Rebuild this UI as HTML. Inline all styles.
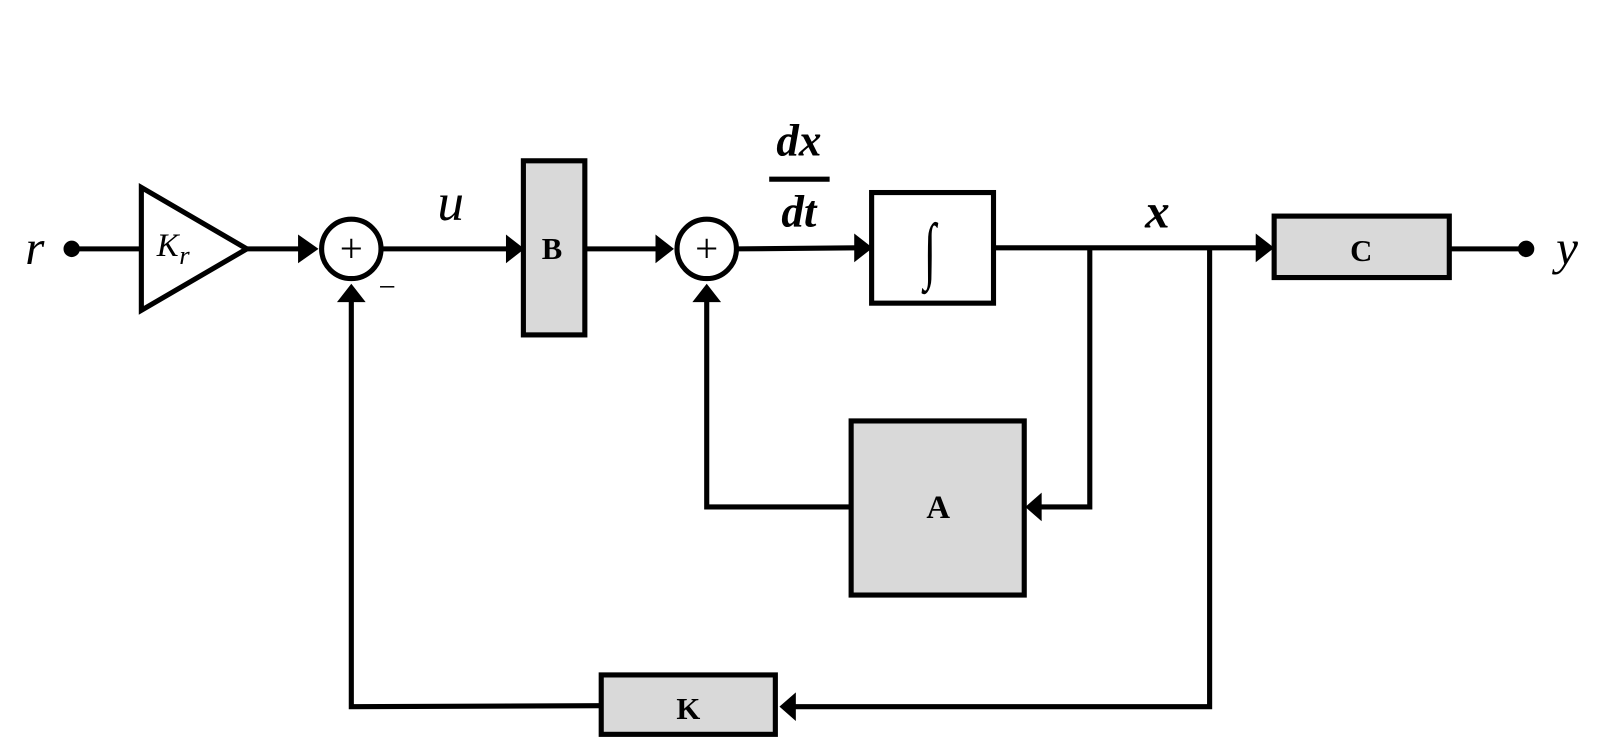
<!DOCTYPE html>
<html><head><meta charset="utf-8"><style>html,body{margin:0;padding:0;background:#fff}svg{display:block}</style></head>
<body>
<svg width="1606" height="737" viewBox="0 0 1568 719.6" preserveAspectRatio="none" xmlns="http://www.w3.org/2000/svg">
<g stroke="#000" stroke-width="5" fill="none">
<line x1="70" y1="243" x2="138" y2="243"/>
<polygon points="138,183 138,303 241,243" fill="#fff"/>
<line x1="241" y1="243" x2="295" y2="243"/>
<circle cx="343" cy="243" r="29" fill="#fff"/>
<line x1="372" y1="243" x2="497" y2="243"/>
<rect x="511" y="157" width="60" height="170" fill="#d9d9d9"/>
<line x1="571" y1="243" x2="643" y2="243"/>
<circle cx="690" cy="243" r="29" fill="#fff"/>
<line x1="719" y1="243" x2="837" y2="242"/>
<rect x="851" y="188" width="119" height="108" fill="#fff"/>
<line x1="970" y1="242" x2="1228" y2="242"/>
<rect x="1244" y="211" width="171" height="60" fill="#d9d9d9"/>
<line x1="1415" y1="243" x2="1490" y2="243"/>
<polyline points="1064,242 1064,495 1015,495"/>
<rect x="831" y="411" width="169" height="170" fill="#d9d9d9"/>
<polyline points="831,495 690,495 690,292"/>
<polyline points="1181,242 1181,690 775,690"/>
<rect x="587" y="659" width="170" height="58" fill="#d9d9d9"/>
<polyline points="587,689 343,690 343,292"/>
<line x1="751" y1="175" x2="810" y2="175"/>
</g>
<g fill="#000">
<circle cx="70" cy="243" r="8"/>
<circle cx="1490" cy="243" r="8"/>
<polygon points="291,229 311,243 291,257"/>
<polygon points="494,229 512,243 494,257"/>
<polygon points="640,229 658,243 640,257"/>
<polygon points="834,228 852,242 834,256"/>
<polygon points="1226,228 1244,242 1226,256"/>
<polygon points="1017,481 1001,495 1017,509"/>
<polygon points="777,676 761,690 777,704"/>
<polygon points="676,295 690,277 704,295"/>
<polygon points="329,295 343,277 357,295"/>
</g>
<g font-family="Liberation Serif, serif" fill="#000">
<text x="34" y="258" font-size="48" font-style="italic" text-anchor="middle">r</text>
<text x="153" y="250" font-size="32" font-style="italic">K</text>
<text x="175" y="258" font-size="26" font-style="italic">r</text>
<text x="343" y="256" font-size="40" text-anchor="middle">+</text>
<text x="690" y="256" font-size="40" text-anchor="middle">+</text>
<text x="378" y="290" font-size="30" text-anchor="middle">−</text>
<text x="440" y="215" font-size="52" font-style="italic" text-anchor="middle">u</text>
<text x="539" y="253" font-size="30" font-weight="bold" text-anchor="middle">B</text>
<text x="780" y="152" font-size="44" font-weight="bold" font-style="italic" text-anchor="middle">dx</text>
<text x="780" y="221" font-size="44" font-weight="bold" font-style="italic" text-anchor="middle">dt</text>
<text x="908" y="268" font-size="72" text-anchor="middle" transform="translate(908 0) scale(0.6 1) translate(-908 0)">∫</text>
<text x="1130" y="222" font-size="48" font-weight="bold" font-style="italic" text-anchor="middle">x</text>
<text x="1329" y="255" font-size="30" font-weight="bold" text-anchor="middle">C</text>
<text x="1530" y="258" font-size="48" font-style="italic" text-anchor="middle">y</text>
<text x="916" y="506" font-size="32" font-weight="bold" text-anchor="middle">A</text>
<text x="672" y="702" font-size="30" font-weight="bold" text-anchor="middle">K</text>
</g>
</svg>
</body></html>
